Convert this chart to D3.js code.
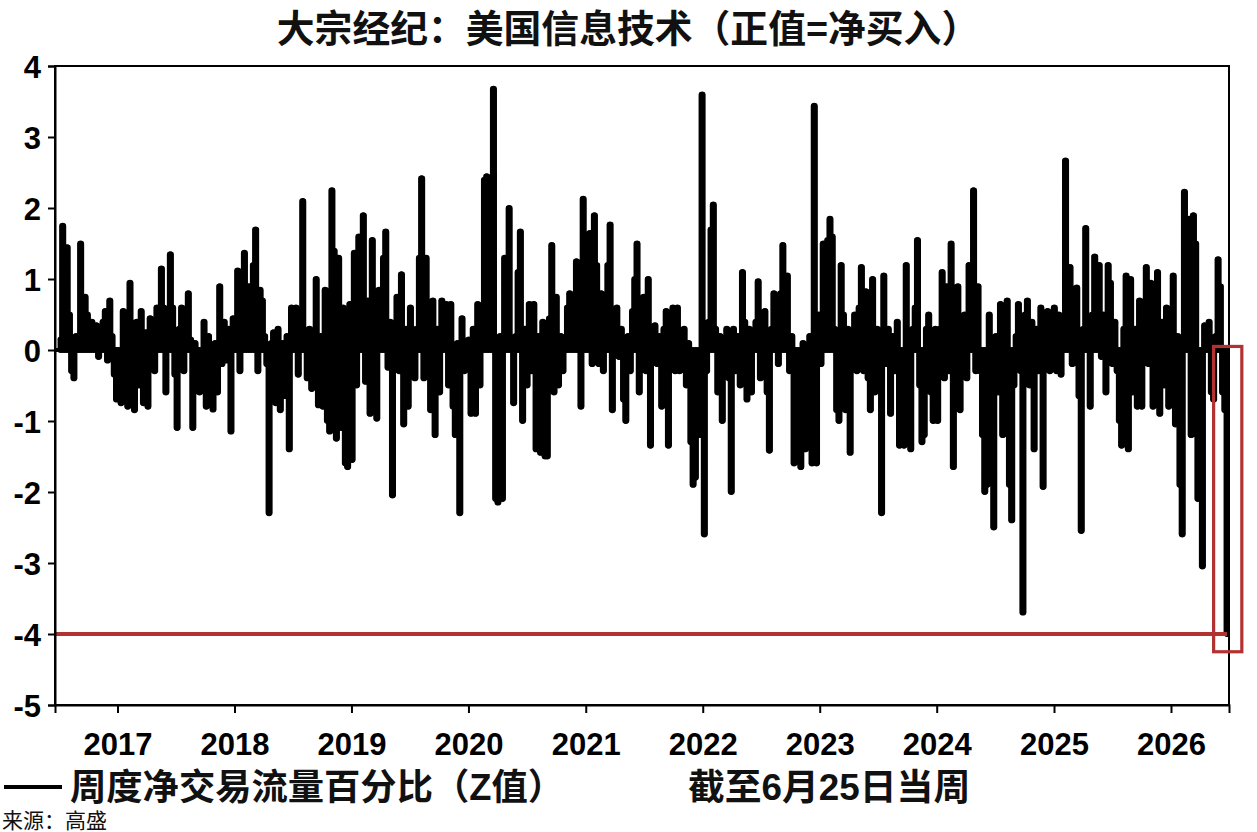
<!DOCTYPE html>
<html><head><meta charset="utf-8">
<script src="https://cdn.jsdelivr.net/npm/d3@7"></script>
<style>body{margin:0;background:#fff}svg{display:block}</style>
</head><body>
<svg id="c" width="1257" height="832"></svg>
<script>
// ---- data (weekly net flow Z-score, week ending Thursday) ----
const startDate = "2016-07-07";
const v2016 = [0.15,1.75,1.3,1.45,0.5,-0.3,-0.4,0.2,0.1,1.5,0.3,0.75,0.5,0.15,0.4,0.3,0.35,-0.1,0.3,0.4,0.55,-0.15,0.7,0.2,-0.35,-0.7];
const v2017 = [-0.3,-0.75,0.55,0.1,-0.8,0.95,-0.2,-0.85,0.4,-0.5,0.55,-0.75,0.25,-0.8,0.45,0.3,-0.3,0.6,0.2,1.15,0.6,-0.6,0.5,1.35,0.6,-0.35,-1.1,0.3,0.6,-0.3,0.5,0.8,0.15,-1.1,0.1,-0.3,-0.6,-0.25,0.4,-0.8,0.2,-0.4,-0.84,0.1,-0.6,0.9,-0.2,0.4,-0.15,0.3,-1.15,0.45];
const v2018 = [0.3,1.12,-0.3,0.6,1.37,0.3,0.9,0.2,1.2,1.7,-0.3,0.85,0.7,0.2,-0.2,-2.3,0.1,0.25,-0.75,0.3,-0.85,0.1,-0.65,0.2,-1.4,0.6,0.1,0.6,-0.35,0.5,2.1,0.2,-0.4,0.3,-0.55,0.1,1.0,-0.78,0.2,-0.8,0.85,-1.0,-1.15,2.25,1.4,-1.25,1.3,-1.1,0.6,-1.6,-1.65,0.65];
const v2019 = [-1.55,1.37,-0.5,1.6,0.9,1.9,-0.45,0.7,-0.9,1.55,0.4,-0.97,0.85,0.1,1.3,1.67,-0.25,0.4,-2.05,0.2,0.75,-0.3,1.07,-1.05,0.3,-0.8,0.6,0.3,-0.4,0.3,1.3,2.42,-0.4,1.3,0.5,-0.85,0.7,-1.2,0.3,-0.6,0.7,0.2,0.65,-0.5,0.65,-0.8,-1.2,0.1,-2.3,0.45,-0.3,0.1];
const v2020 = [0.15,-0.9,0.3,-0.9,0.65,-0.5,0.2,2.4,2.45,0.4,1.0,3.68,-2.1,-2.15,0.2,-2.1,1.3,0.5,2.0,0.1,-0.75,0.2,1.1,1.67,-1.0,0.3,-0.5,0.65,-0.3,0.65,-1.4,0.2,-1.45,0.4,-1.5,-1.5,0.45,1.48,-0.6,0.75,-0.5,0.2,-0.3,0.1,0.6,0.8,0.4,0.7,1.25,0.8,-0.8,2.13,0.6];
const v2021 = [0.4,1.65,-0.2,1.9,1.2,-0.2,0.8,-0.3,0.5,1.2,1.77,-0.85,0.4,0.6,-0.1,0.3,-0.7,-1.0,0.2,-0.3,0.55,1.0,1.5,-0.6,0.3,0.75,-0.3,1.0,-1.35,0.2,0.35,-0.2,0.2,-0.8,0.3,0.55,-1.35,0.4,0.6,-0.3,0.6,-0.3,0.1,0.3,-0.5,0.1,-1.3,-1.9,-1.8,-0.4,-1.2,3.6];
const v2022 = [-2.6,-0.3,0.4,1.7,2.05,0.3,-0.6,0.2,-1.0,0.1,0.3,-0.4,-2.0,0.3,-0.3,0.2,-0.5,1.1,0.4,-0.7,0.3,-0.6,0.1,0.4,0.97,-0.4,0.2,0.55,-0.6,-1.42,0.3,0.8,0.6,-0.2,0.8,1.48,0.3,1.05,-0.3,0.2,-1.6,-1.55,-0.2,-1.65,0.1,-1.4,-0.5,0.2,-1.6,3.44,-1.6,0.5];
const v2023 = [-0.2,1.5,0.9,1.55,1.85,1.6,0.3,-0.85,-1.0,1.2,0.5,-0.85,0.3,-1.45,0.2,0.5,-0.3,0.6,1.17,-0.3,0.83,-0.4,-0.85,1.0,-0.6,0.3,-0.5,-2.3,1.05,-0.2,0.3,-0.9,0.2,-0.3,0.4,-1.35,-0.6,-1.35,1.2,0.1,-1.4,0.3,0.6,1.55,-0.5,-1.3,-1.2,0.3,0.5,-0.6,-1.0,0.3];
const v2024 = [-1.0,0.3,1.1,-0.4,0.9,-0.3,1.5,-1.65,0.2,0.9,-0.85,0.3,0.5,-0.4,1.2,0.3,2.25,-0.3,0.9,-0.3,-1.2,-2.0,-1.9,0.5,-1.5,-2.5,0.2,-0.6,0.65,-1.2,0.1,0.7,-1.9,-2.4,-0.5,0.2,0.65,-0.3,-3.7,0.5,0.7,-0.5,0.4,-1.4,0.3,-0.3,0.6,-1.93,0.3,0.55,-0.3,0.5];
const v2025 = [0.6,-0.3,0.5,-0.35,0.2,2.67,0.8,1.17,-0.2,0.4,0.88,-0.65,-2.55,0.3,1.72,0.2,-0.8,0.5,1.32,0.3,1.2,-0.1,0.5,-0.6,1.2,0.95,-0.2,0.4,-0.3,-1.0,-1.35,0.3,1.05,-1.4,1.0,-0.6,0.3,-0.8,0.7,-0.8,0.3,1.17,-0.2,0.95,-0.8,0.2,1.1,-0.9,0.4,-0.5,0.6,-0.8];
const v2026 = [-0.3,1.05,-1.05,0.2,-1.9,-2.6,2.23,1.0,1.85,-1.2,1.9,1.5,-2.1,-0.5,-3.05,0.35,0.3,0.4,-0.6,-0.7,0.2,1.28,0.9,-0.6,-0.85,-4.0];

const yearTicks = [2017,2018,2019,2020,2021,2022,2023,2024,2025,2026];
const yTicks = [4,3,2,1,0,-1,-2,-3,-4,-5];
const thresholdValue = -4;
const highlightRange = {from:"2026-05-14", to:"2026-08-10", top:0.05, bottom:-4.25};

const titleText = "大宗经纪：美国信息技术（正值=净买入）";
const legendText = "周度净交易流量百分比（Z值）";
const asOfText = "截至6月25日当周";
const sourceText = "来源：高盛";

// ---- build ----
const parse = d3.timeParse("%Y-%m-%d");
const values = [].concat(v2016,v2017,v2018,v2019,v2020,v2021,v2022,v2023,v2024,v2025,v2026);
const t0 = parse(startDate);
const data = values.map((v,i)=>({date:d3.timeDay.offset(t0, 7*i), value:v}));

const svg = d3.select("#c");
const L=55, R=1229, T=66, B=705;
const x = d3.scaleTime().domain([parse("2016-06-20"), parse("2026-07-01")]).range([L,R]);
const y = d3.scaleLinear().domain([-5,4]).range([B,T]);

const numFont = "'Liberation Sans', Arial, 'Noto Sans CJK SC', sans-serif";
const cjkFont = "'Liberation Sans', 'Noto Sans CJK SC', sans-serif";

// frame
svg.append("rect").attr("x",L).attr("y",T).attr("width",R-L).attr("height",B-T)
  .attr("fill","none").attr("stroke","#000").attr("stroke-width",2);

// zero line
svg.append("line").attr("x1",L).attr("x2",R).attr("y1",y(0)).attr("y2",y(0))
  .attr("stroke","#000").attr("stroke-width",4);

// weekly columns (thick strokes from zero, rounded ends)
svg.append("g").selectAll("line").data(data).join("line")
  .attr("x1",d=>x(d.date)).attr("x2",d=>x(d.date))
  .attr("y1",y(0)).attr("y2",d=>y(d.value))
  .attr("stroke","#000").attr("stroke-width",5.8).attr("stroke-linecap","round");

// connecting thick step line
const line = d3.line().curve(d3.curveStep).x(d=>x(d.date)).y(d=>y(d.value));
svg.append("path").datum(data).attr("d",line)
  .attr("fill","none").attr("stroke","#000").attr("stroke-width",4.8)
  .attr("stroke-linejoin","round").attr("stroke-linecap","round");

// threshold line
svg.append("line").attr("x1",L).attr("x2",R-2).attr("y1",y(thresholdValue)).attr("y2",y(thresholdValue))
  .attr("stroke","#b23232").attr("stroke-width",4);

// highlight box
svg.append("rect")
  .attr("x",x(parse(highlightRange.from))).attr("y",y(highlightRange.top))
  .attr("width",x(parse(highlightRange.to))-x(parse(highlightRange.from)))
  .attr("height",y(highlightRange.bottom)-y(highlightRange.top))
  .attr("fill","none").attr("stroke","#b23232").attr("stroke-width",3.2);

// y axis
const yAxis = d3.axisLeft(y).tickValues(yTicks).tickSize(7).tickFormat(d=>String(d));
const gy = svg.append("g").attr("transform",`translate(${L},0)`).call(yAxis);
gy.select(".domain").attr("stroke","#000").attr("stroke-width",2);
gy.selectAll(".tick line").attr("stroke","#000").attr("stroke-width",2);
gy.selectAll("text").attr("font-family",numFont).attr("font-weight","bold")
  .attr("font-size",31).attr("fill","#000").attr("x",-14).attr("dy","0.36em");

// x axis
const xAxis = d3.axisBottom(x).tickValues(yearTicks.map(yr=>new Date(yr,0,1)))
  .tickSize(8).tickFormat(d3.timeFormat("%Y"));
const gx = svg.append("g").attr("transform",`translate(0,${B})`).call(xAxis);
gx.select(".domain").attr("stroke","#000").attr("stroke-width",2);
gx.selectAll(".tick line").attr("stroke","#000").attr("stroke-width",2);
gx.selectAll("text").attr("font-family",numFont).attr("font-weight","bold")
  .attr("font-size",31).attr("fill","#000").attr("y",28);

// title
svg.append("text").attr("x",628).attr("y",42).attr("text-anchor","middle")
  .attr("font-family",cjkFont).attr("font-weight","bold").attr("font-size",37.8)
  .attr("fill","#111").text(titleText);

// legend
svg.append("line").attr("x1",4).attr("x2",62).attr("y1",787).attr("y2",787)
  .attr("stroke","#000").attr("stroke-width",4);
svg.append("text").attr("x",70).attr("y",800)
  .attr("font-family",cjkFont).attr("font-weight","bold").attr("font-size",36.3)
  .attr("fill","#111").text(legendText);
svg.append("text").attr("x",688).attr("y",800)
  .attr("font-family",cjkFont).attr("font-weight","bold").attr("font-size",36.8)
  .attr("fill","#111").text(asOfText);

// source
svg.append("text").attr("x",2).attr("y",828)
  .attr("font-family",cjkFont).attr("font-size",21)
  .attr("fill","#111").text(sourceText);
</script>
</body></html>
